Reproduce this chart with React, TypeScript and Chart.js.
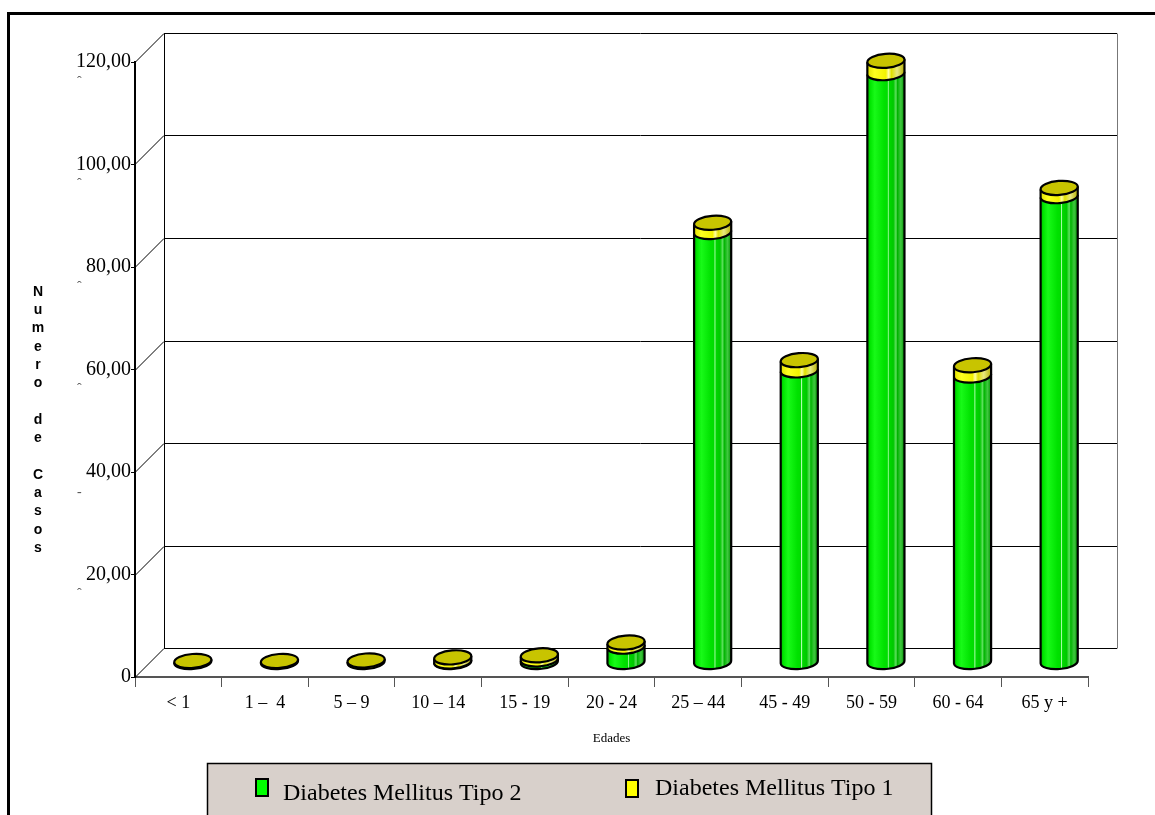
import { useEffect, useRef } from 'react';
import { Chart, registerables } from 'chart.js';

Chart.register(...registerables);

// Age groups on the horizontal axis
const ageGroups = ['< 1', '1 –  4', '5 – 9', '10 – 14', '15 - 19', '20 - 24', '25 – 44', '45 - 49', '50 - 59', '60 - 64', '65 y +'];
// Cases per age group
const tipo2 = [0, 0, 0, 0.2, 0.6, 3.1, 84, 57, 115, 56, 91];
const tipo1 = [0.3, 0.3, 0.4, 0.8, 0.8, 0.8, 1.8, 2, 2.4, 2, 1.6];
const seriesNames = ['Diabetes Mellitus Tipo 2', 'Diabetes Mellitus Tipo 1'];
const yTickValues = [0, 20, 40, 60, 80, 100, 120];
const yAxisTitle = 'Numero de Casos';
const xAxisTitle = 'Edades';

const SERIF = '"Liberation Serif", "Times New Roman", serif';
const SANS = '"Liberation Sans", Arial, sans-serif';

// depth of the 3D box (back wall offset) and tilt of the cylinder ellipses
const DEPTH = 29;
const TILT = -0.08;
const RY = 7;

function fmtTick(v: number): string {
  return v === 0 ? '0' : v.toFixed(2).replace('.', ',');
}

function greenFill(ctx: CanvasRenderingContext2D, x0: number, x1: number) {
  const g = ctx.createLinearGradient(x0, 0, x1, 0);
  g.addColorStop(0, '#00b400');
  g.addColorStop(0.08, '#00e600');
  g.addColorStop(0.2, '#18fa18');
  g.addColorStop(0.45, '#00e200');
  g.addColorStop(0.54, '#00dc00');
  g.addColorStop(0.56, '#b0ffb0');
  g.addColorStop(0.59, '#00d800');
  g.addColorStop(0.7, '#00c800');
  g.addColorStop(0.77, '#60e060');
  g.addColorStop(0.81, '#00b400');
  g.addColorStop(0.9, '#40c840');
  g.addColorStop(1, '#009000');
  return g;
}

function yellowFill(ctx: CanvasRenderingContext2D, x0: number, x1: number) {
  const g = ctx.createLinearGradient(x0, 0, x1, 0);
  g.addColorStop(0, '#e0e000');
  g.addColorStop(0.2, '#ffff20');
  g.addColorStop(0.5, '#f2f200');
  g.addColorStop(0.57, '#ffffa0');
  g.addColorStop(0.65, '#e0e000');
  g.addColorStop(0.8, '#e8e880');
  g.addColorStop(1, '#b4b000');
  return g;
}

function drawBody(ctx: CanvasRenderingContext2D, cx: number, yTop: number, yBot: number, rx: number, fill: CanvasGradient) {
  const cos = Math.cos(TILT);
  const sin = Math.sin(TILT);
  ctx.beginPath();
  ctx.ellipse(cx, yTop, rx, RY, TILT, 0, Math.PI, true);
  ctx.ellipse(cx, yBot, rx, RY, TILT, Math.PI, 0, true);
  ctx.closePath();
  ctx.fillStyle = fill;
  ctx.fill();
  ctx.beginPath();
  ctx.moveTo(cx - rx * cos, yTop - rx * sin);
  ctx.ellipse(cx, yBot, rx, RY, TILT, Math.PI, 0, true);
  ctx.lineTo(cx + rx * cos, yTop + rx * sin);
  ctx.lineWidth = 2.2;
  ctx.strokeStyle = '#000';
  ctx.stroke();
}

function drawCap(ctx: CanvasRenderingContext2D, cx: number, y: number, rx: number) {
  ctx.beginPath();
  ctx.ellipse(cx, y, rx, RY, TILT, 0, Math.PI * 2);
  ctx.fillStyle = '#c8c400';
  ctx.fill();
  ctx.lineWidth = 2.2;
  ctx.strokeStyle = '#000';
  ctx.stroke();
}

const scenePlugin = {
  id: 'scene3d',
  beforeDatasetsDraw(chart: any) {
    const { ctx, chartArea: a } = chart;
    const y = chart.scales.y;
    ctx.save();
    // outer frame
    ctx.lineWidth = 3;
    ctx.strokeStyle = '#000';
    ctx.strokeRect(8.5, 13.5, 1400, 1000);

    const bl = a.left + DEPTH;
    const br = a.right + DEPTH;
    ctx.lineWidth = 1;
    for (const v of yTickValues) {
      const py = Math.round(y.getPixelForValue(v)) + 0.5;
      ctx.strokeStyle = '#000';
      ctx.beginPath();
      ctx.moveTo(a.left, py);
      ctx.lineTo(bl, py - DEPTH);
      ctx.lineTo(br, py - DEPTH);
      ctx.stroke();
    }
    const top = Math.round(y.getPixelForValue(120)) + 0.5 - DEPTH;
    const bot = Math.round(y.getPixelForValue(0)) + 0.5 - DEPTH;
    ctx.beginPath();
    ctx.moveTo(bl + 0.5, top);
    ctx.lineTo(bl + 0.5, bot);
    ctx.stroke();
    ctx.strokeStyle = '#777';
    ctx.beginPath();
    ctx.moveTo(br + 0.5, top);
    ctx.lineTo(br + 0.5, bot);
    ctx.stroke();

    // small marks under the value labels
    ctx.fillStyle = '#555';
    ctx.font = `14px ${SERIF}`;
    ctx.textAlign = 'left';
    ctx.textBaseline = 'middle';
    for (const v of yTickValues) {
      if (v === 0) continue;
      ctx.fillText(v === 40 ? '-' : 'ˆ', 77, y.getPixelForValue(v) + 20);
    }
    ctx.restore();
  },
  afterDatasetsDraw(chart: any) {
    const { ctx } = chart;
    const m2 = chart.getDatasetMeta(0);
    const m1 = chart.getDatasetMeta(1);
    ctx.save();
    for (let i = 0; i < ageGroups.length; i++) {
      const e2 = m2.data[i].getProps(['x', 'y', 'base', 'width'], true);
      const e1 = m1.data[i].getProps(['x', 'y', 'base', 'width'], true);
      const cx = e2.x + DEPTH / 2;
      const rx = e2.width / 2;
      const sh = -DEPTH / 2;
      const base = e2.base + sh;
      const mid = e2.y + sh;
      const topY = e1.y + sh;
      if (tipo2[i] > 0) drawBody(ctx, cx, mid, base, rx, greenFill(ctx, cx - rx, cx + rx));
      if (tipo1[i] > 0) drawBody(ctx, cx, topY, e1.base + sh, rx, yellowFill(ctx, cx - rx, cx + rx));
      drawCap(ctx, cx, topY, rx);
    }
    ctx.restore();
  },
  afterDraw(chart: any) {
    const { ctx } = chart;
    ctx.save();
    // vertical axis title, one letter per line
    ctx.fillStyle = '#000';
    ctx.font = `bold 14px ${SANS}`;
    ctx.textAlign = 'center';
    ctx.textBaseline = 'middle';
    let ly = 292;
    for (const word of yAxisTitle.split(' ')) {
      for (const ch of word) {
        ctx.fillText(ch, 38, ly);
        ly += 18.3;
      }
      ly += 18.3;
    }

    // legend
    ctx.fillStyle = '#d8d0cb';
    ctx.fillRect(207, 763, 724, 60);
    ctx.lineWidth = 1.5;
    ctx.strokeStyle = '#000';
    ctx.strokeRect(207.5, 763.5, 724, 60);
    const items = [
      { x: 256, y: 779, color: '#00ff00', tx: 283, ty: 800 },
      { x: 626, y: 780, color: '#ffff00', tx: 655, ty: 795 },
    ];
    items.forEach((it, k) => {
      ctx.fillStyle = it.color;
      ctx.fillRect(it.x, it.y, 12, 17);
      ctx.lineWidth = 2;
      ctx.strokeStyle = '#000';
      ctx.strokeRect(it.x, it.y, 12, 17);
      ctx.fillStyle = '#000';
      ctx.font = `24px ${SERIF}`;
      ctx.textAlign = 'left';
      ctx.textBaseline = 'alphabetic';
      ctx.fillText(seriesNames[k], it.tx, it.ty);
    });
    ctx.restore();
  },
};

export default function App() {
  const ref = useRef<HTMLCanvasElement | null>(null);
  useEffect(() => {
    const canvas = ref.current;
    if (!canvas) return;
    const chart = new Chart(canvas, {
      type: 'bar',
      data: {
        labels: ageGroups,
        datasets: [
          { label: seriesNames[0], data: tipo2, backgroundColor: 'rgba(0,0,0,0)', borderWidth: 0 },
          { label: seriesNames[1], data: tipo1, backgroundColor: 'rgba(0,0,0,0)', borderWidth: 0 },
        ],
      },
      options: {
        responsive: false,
        animation: false,
        layout: { padding: { left: 0, top: 62, right: 67, bottom: 0 } },
        datasets: { bar: { categoryPercentage: 1, barPercentage: 0.43 } },
        plugins: { legend: { display: false }, tooltip: { enabled: false }, title: { display: false } },
        scales: {
          x: {
            stacked: true,
            offset: true,
            grid: { offset: true, drawOnChartArea: false, drawTicks: true, tickLength: 10, color: '#555', lineWidth: 1 },
            border: { color: '#555', width: 2 },
            ticks: { font: { family: SERIF, size: 18 }, color: '#000', padding: 5, maxRotation: 0, autoSkip: false },
            title: { display: true, text: xAxisTitle, color: '#000', font: { family: SERIF, size: 13 }, padding: { top: 0, bottom: 69 } },
            afterFit: (s: any) => { s.height = 138; },
          },
          y: {
            stacked: true,
            min: 0,
            max: 120,
            afterBuildTicks: (s: any) => { s.ticks = yTickValues.map((v) => ({ value: v })); },
            ticks: { callback: (v: any) => fmtTick(Number(v)), font: { family: SERIF, size: 20 }, color: '#000', padding: 0 },
            grid: { drawOnChartArea: false, drawTicks: true, tickLength: 4, color: '#000' },
            border: { color: '#000', width: 2 },
            afterFit: (s: any) => { s.width = 135; },
          },
        },
      },
      plugins: [scenePlugin],
    });
    return () => chart.destroy();
  }, []);
  return (
    <canvas
      ref={ref}
      width={1155}
      height={815}
      style={{ position: 'fixed', left: 0, top: 0, width: 1155, height: 815, background: '#fff' }}
    />
  );
}
